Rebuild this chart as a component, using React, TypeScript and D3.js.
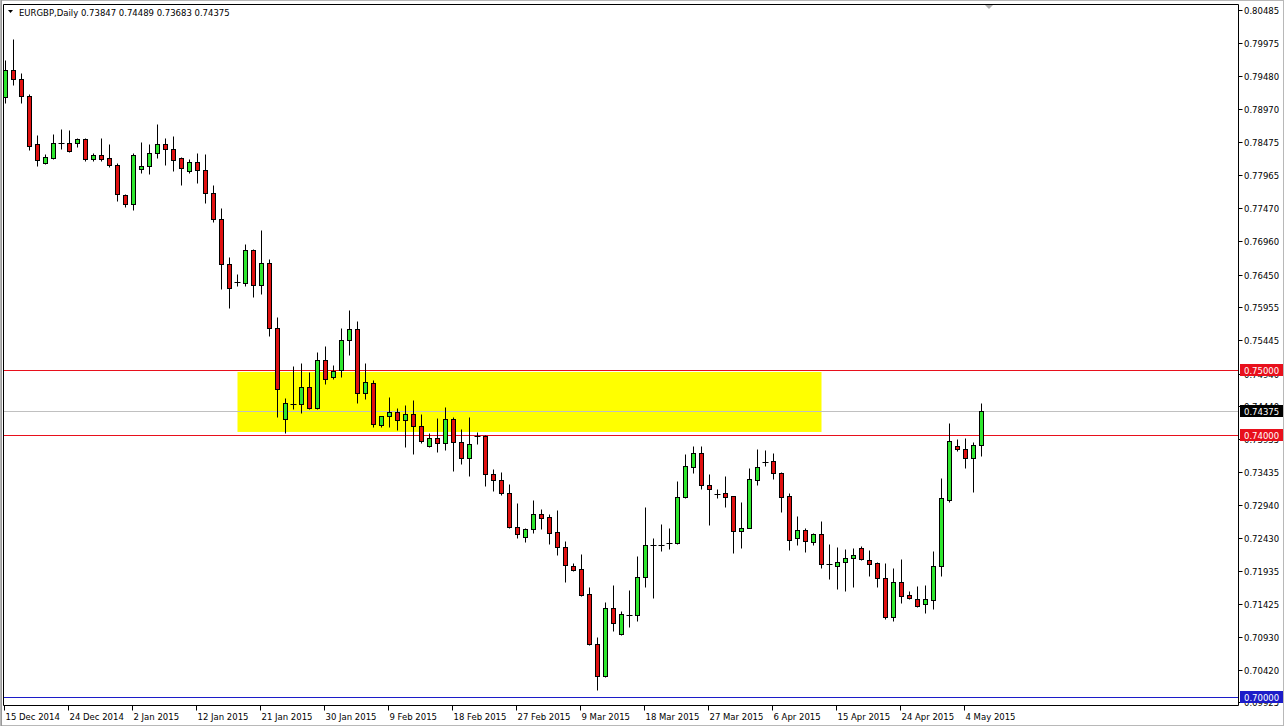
import React from "react";
import * as d3 from "d3";

const symbolTitle = "EURGBP,Daily";
const headerValues = ["0.73847", "0.74489", "0.73683", "0.74375"];

const opens = [0.79159,0.79570,0.79433,0.79174,0.78442,0.78152,0.78228,0.78457,0.78457,0.78457,0.78518,0.78213,0.78274,0.78228,0.78122,0.77664,0.77527,0.78061,0.78106,0.78305,0.78442,0.78366,0.78228,0.78030,0.78167,0.78045,0.77695,0.77298,0.76612,0.76322,0.76322,0.76825,0.76292,0.76627,0.75636,0.74248,0.74477,0.74477,0.74736,0.74416,0.75148,0.74888,0.74995,0.75453,0.75620,0.74644,0.74797,0.74156,0.74294,0.74355,0.74233,0.74324,0.74141,0.73836,0.73958,0.73882,0.74248,0.73897,0.73653,0.73973,0.73989,0.73409,0.73318,0.73119,0.72601,0.72448,0.72570,0.72799,0.72753,0.72525,0.72296,0.72006,0.71960,0.71579,0.70816,0.70328,0.71365,0.70969,0.71259,0.71259,0.71838,0.72326,0.72326,0.72357,0.72357,0.73058,0.73516,0.73729,0.73241,0.73104,0.73119,0.73074,0.72540,0.72586,0.73318,0.73592,0.73607,0.73424,0.73074,0.72433,0.72555,0.72372,0.72494,0.72036,0.72006,0.72067,0.72128,0.72281,0.72097,0.72052,0.71823,0.71228,0.71762,0.71564,0.71503,0.71426,0.71487,0.72006,0.73013,0.73836,0.73790,0.73653,0.73847];
const highs = [0.79723,0.80043,0.79525,0.79204,0.78579,0.78289,0.78594,0.78671,0.78655,0.78533,0.78533,0.78305,0.78533,0.78442,0.78152,0.77679,0.78305,0.78472,0.78442,0.78747,0.78533,0.78564,0.78244,0.78213,0.78305,0.78289,0.77817,0.77466,0.76719,0.76459,0.76917,0.76840,0.77130,0.76688,0.75803,0.74568,0.75056,0.75102,0.74965,0.75270,0.75361,0.75071,0.75636,0.75910,0.75742,0.75102,0.74843,0.74300,0.74583,0.74416,0.74461,0.74538,0.74324,0.74034,0.74263,0.74431,0.74278,0.74095,0.74278,0.74050,0.74000,0.73485,0.73440,0.73257,0.72967,0.72586,0.73013,0.72875,0.72799,0.72860,0.72387,0.72052,0.72189,0.71686,0.70923,0.71457,0.71716,0.71320,0.71640,0.72158,0.72906,0.72433,0.72647,0.72586,0.73302,0.73714,0.73836,0.73836,0.73409,0.73180,0.73379,0.73080,0.72982,0.73500,0.73790,0.73775,0.73729,0.73440,0.73119,0.72769,0.72586,0.72509,0.72692,0.72342,0.72296,0.72265,0.72281,0.72311,0.72250,0.72067,0.72052,0.71975,0.72113,0.71625,0.71701,0.71716,0.72235,0.73348,0.74187,0.73943,0.73958,0.73897,0.74489];
const lows = [0.79067,0.79342,0.79067,0.78350,0.78106,0.78137,0.78213,0.78366,0.78320,0.78396,0.78183,0.78183,0.78183,0.78091,0.77573,0.77481,0.77435,0.78000,0.77984,0.78228,0.78122,0.78030,0.77817,0.78000,0.77847,0.77542,0.77252,0.76231,0.75941,0.76276,0.76276,0.76109,0.76154,0.75514,0.74278,0.74034,0.74400,0.74339,0.74400,0.74400,0.74782,0.74858,0.74888,0.75224,0.74492,0.74553,0.74126,0.74126,0.74126,0.74080,0.73821,0.73714,0.73882,0.73821,0.73745,0.73775,0.73455,0.73562,0.73379,0.73867,0.73226,0.73150,0.73089,0.72586,0.72433,0.72372,0.72509,0.72570,0.72342,0.72174,0.71762,0.71930,0.71548,0.70800,0.70115,0.70310,0.71015,0.70954,0.71076,0.71167,0.71686,0.71518,0.72235,0.72265,0.72342,0.73050,0.73424,0.73180,0.72631,0.73043,0.72906,0.72204,0.72281,0.72580,0.73241,0.73531,0.73333,0.72830,0.72250,0.72326,0.72220,0.72326,0.71975,0.71808,0.71655,0.71625,0.71686,0.72097,0.71853,0.71686,0.71198,0.71167,0.71442,0.71503,0.71381,0.71289,0.71350,0.71853,0.72982,0.73760,0.73500,0.73135,0.73683];
const closes = [0.79570,0.79433,0.79174,0.78411,0.78198,0.78244,0.78457,0.78450,0.78335,0.78518,0.78213,0.78274,0.78213,0.78122,0.77679,0.77527,0.78274,0.78106,0.78305,0.78442,0.78366,0.78198,0.78076,0.78167,0.78045,0.77695,0.77298,0.76612,0.76246,0.76330,0.76825,0.76292,0.76627,0.75636,0.74705,0.74492,0.74480,0.74736,0.74416,0.75148,0.74858,0.74980,0.75453,0.75620,0.74644,0.74812,0.74172,0.74294,0.74355,0.74233,0.74324,0.74141,0.73912,0.73958,0.73882,0.74248,0.73897,0.73653,0.73867,0.73989,0.73409,0.73318,0.73119,0.72601,0.72494,0.72570,0.72799,0.72738,0.72509,0.72296,0.72021,0.71945,0.71564,0.70816,0.70328,0.71365,0.71137,0.71274,0.71265,0.71838,0.72326,0.72330,0.72320,0.72360,0.73058,0.73531,0.73729,0.73241,0.73180,0.73100,0.73058,0.72540,0.72586,0.73333,0.73516,0.73595,0.73424,0.73058,0.72403,0.72555,0.72387,0.72494,0.72036,0.72030,0.72067,0.72128,0.72174,0.72113,0.72036,0.71823,0.71228,0.71762,0.71548,0.71518,0.71396,0.71503,0.72006,0.73043,0.73912,0.73790,0.73653,0.73851,0.74375];

const dateLabels = ["15 Dec 2014","24 Dec 2014","2 Jan 2015","12 Jan 2015","21 Jan 2015","30 Jan 2015","9 Feb 2015","18 Feb 2015","27 Feb 2015","9 Mar 2015","18 Mar 2015","27 Mar 2015","6 Apr 2015","15 Apr 2015","24 Apr 2015","4 May 2015"];
const barsPerDateLabel = 8;

const priceTicks = [0.80485,0.79975,0.79480,0.78970,0.78475,0.77965,0.77470,0.76960,0.76450,0.75955,0.75445,0.74940,0.74440,0.73935,0.73435,0.72940,0.72430,0.71935,0.71425,0.70930,0.70420,0.69925];

const levelLines = [
  { price: 0.75, color: "#e8101c", label: "0.75000" },
  { price: 0.74, color: "#e8101c", label: "0.74000" },
  { price: 0.70, color: "#1c1cc8", label: "0.70000" },
];
const bidPrice = 0.74375;
const zoneTop = 0.74965;
const zoneBottom = 0.74050;
const zoneStartBar = 29;
const zoneEndBar = 102;

const W = 1284, H = 726;
const FL = 3.5, FR = 1238.5, FT = 4.5, FB = 705.5;
const FONT = "'DejaVu Sans', Tahoma, sans-serif";

export default function App() {
  const n = opens.length;
  const x = d3.scaleLinear().domain([0, n - 1]).range([5.5, 5.5 + 8 * (n - 1)]);
  const y = d3.scaleLinear().domain([0.69870, 0.80577]).range([706, 4]);
  const ry = (v: number) => Math.round(y(v)) + 0.5;

  return (
    <svg width={W} height={H} style={{ position: "absolute", left: 0, top: 0, background: "#fff" }}>
      <rect x={0} y={0} width={W} height={H} fill="#fff" />
      <rect x={0.5} y={0.5} width={W - 1} height={H - 1} fill="none" stroke="#b8b8b8" />
      <line x1={1.5} y1={0} x2={1.5} y2={H} stroke="#9a9a9a" />
      <defs>
        <clipPath id="plot">
          <rect x={FL} y={FT} width={FR - FL} height={FB - FT} />
        </clipPath>
      </defs>
      <g clipPath="url(#plot)">
        <rect
          x={x(zoneStartBar)}
          y={y(zoneTop)}
          width={x(zoneEndBar) - x(zoneStartBar)}
          height={y(zoneBottom) - y(zoneTop)}
          fill="#ffff00"
        />
        <line x1={FL} x2={FR} y1={ry(bidPrice)} y2={ry(bidPrice)} stroke="#c0c0c0" />
        {levelLines.map((l, i) => (
          <line key={i} x1={FL} x2={FR} y1={ry(l.price)} y2={ry(l.price)} stroke={l.color} />
        ))}
        {opens.map((o, i) => {
          const c = closes[i];
          const cx = x(i);
          const yo = ry(o), yc = ry(c);
          const top = Math.min(yo, yc), bot = Math.max(yo, yc);
          const bull = c >= o;
          return (
            <g key={i}>
              <line x1={cx} x2={cx} y1={ry(highs[i])} y2={ry(lows[i])} stroke="#000" />
              {bot - top < 1.5 ? (
                <line x1={cx - 3} x2={cx + 3} y1={top} y2={top} stroke="#000" />
              ) : (
                <rect x={cx - 2} y={top} width={4} height={bot - top} fill={bull ? "#2ee62e" : "#e01010"} stroke="#000" />
              )}
            </g>
          );
        })}
      </g>
      <polygon points="984,4 994,4 989,9" fill="#b0b0b0" />
      <path d={`M${FL},${FB}V${FT}H${FR}V${FB}H${FL}`} fill="none" stroke="#000" />
      <polygon points="8,10 13,10 10.5,13" fill="#000" />
      <text x={19} y={16} fontFamily={FONT} fontSize={8.5} fill="#000">
        {symbolTitle + "  " + headerValues.join(" ")}
      </text>
      {priceTicks.map((p, i) => (
        <g key={i}>
          <line x1={FR} x2={FR + 4} y1={ry(p)} y2={ry(p)} stroke="#000" />
          <text x={1244} y={ry(p) + 3} fontFamily={FONT} fontSize={8.5} fill="#000">
            {p.toFixed(5)}
          </text>
        </g>
      ))}
      {[...levelLines.slice(0, 1), { price: bidPrice, color: "#000", label: bidPrice.toFixed(5) }, ...levelLines.slice(1)].map((l, i) => (
        <g key={i}>
          <rect x={1240} y={ry(l.price) - 6.5} width={43} height={12} fill={l.color} />
          <text x={1244} y={ry(l.price) + 3} fontFamily={FONT} fontSize={8.5} fill="#fff">
            {l.label}
          </text>
        </g>
      ))}
      {dateLabels.map((d, k) => {
        const cx = x(k * barsPerDateLabel);
        return (
          <g key={k}>
            <line x1={cx - 1} x2={cx - 1} y1={FB} y2={FB + 5} stroke="#000" />
            <text x={cx} y={720} fontFamily={FONT} fontSize={8.5} fill="#000">
              {d}
            </text>
          </g>
        );
      })}
    </svg>
  );
}
